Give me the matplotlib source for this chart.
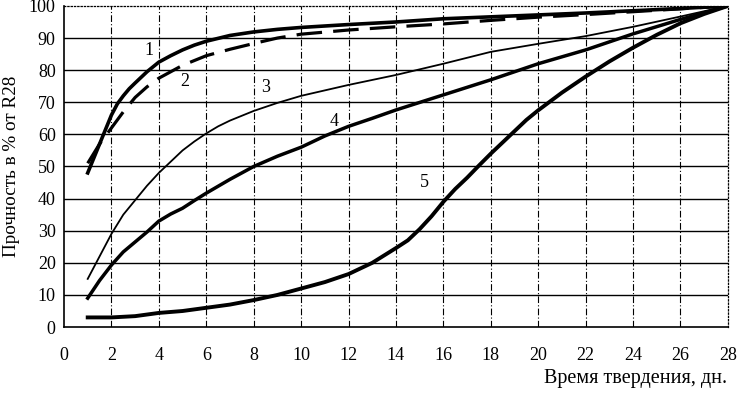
import numpy as np
import matplotlib
matplotlib.use("Agg")
import matplotlib.pyplot as plt

# days of hardening and strength in % of R28
days_1 = [1, 1.25, 1.5, 1.75, 2, 2.25, 2.5, 2.75, 3, 3.5, 4, 4.5, 5, 5.5, 6, 7, 8, 9, 10,
          12, 14, 16, 18, 20, 22, 24, 26, 28]
curve_1 = [48, 52.5, 57, 61.5, 66, 69.5, 72, 74.2, 76, 79.5, 82.5, 84.5, 86.3, 87.8, 89, 90.8, 91.9, 92.7, 93.3,
           94.2, 95, 96, 96.6, 97.2, 97.8, 98.5, 99.2, 100]

days_2 = [1, 1.5, 2, 2.5, 3, 3.5, 4, 5, 6, 7, 8, 9, 10, 12, 14, 16, 18, 20, 22, 24, 26, 28]
curve_2 = [51, 57, 62, 67, 71.5, 74.8, 77.5, 81.5, 84.5, 86.5, 88.3, 90, 91.2, 92.5, 93.5, 94.4, 95.5, 96.5, 97.3,
           98.2, 99.1, 100]

days_3 = [1, 1.5, 2, 2.5, 3, 3.5, 4, 4.5, 5, 5.5, 6, 6.5, 7, 8, 9, 10, 12, 14, 16, 18, 20, 22, 24, 26, 28]
curve_3 = [15, 22, 29, 35, 39.5, 44, 48, 51.5, 55, 57.8, 60.3, 62.5, 64.3, 67.3, 69.8, 72, 75.4, 78.5, 82, 85.7,
           88.2, 90.6, 93.5, 96.7, 100]

days_4 = [1, 1.5, 2, 2.5, 3, 3.5, 4, 4.5, 5, 5.5, 6, 7, 8, 9, 10, 11, 12, 13, 14, 16, 18, 20, 22, 24, 26, 28]
curve_4 = [9, 14.5, 19.3, 23.4, 26.5, 29.6, 33, 35.2, 37, 39.4, 41.7, 46, 50, 53.2, 56, 59.5, 62.5, 65, 67.6,
           72.3, 77, 82, 86.3, 91.3, 95.8, 100]

days_5 = [1, 2, 3, 4, 5, 6, 7, 8, 9, 10, 11, 12, 13, 14, 14.5, 15, 15.5, 16, 16.5, 17, 17.5, 18, 18.5, 19,
          19.5, 20, 21, 22, 23, 24, 25, 26, 27, 28]
curve_5 = [3, 3, 3.4, 4.4, 5, 6, 7, 8.4, 10, 12, 14, 16.5, 20, 24.6, 27, 30.5, 34.5, 39, 43, 46.5, 50.3, 54,
           57.5, 61, 64.5, 67.5, 73, 78, 82.7, 87, 91, 94.6, 97.5, 100]

curve_labels = ["1", "2", "3", "4", "5"]
label_x = [3.6, 5.1, 8.5, 11.4, 15.2]
label_y = [86, 76.5, 74.5, 64, 45]

x_ticks = list(range(0, 29, 2))
y_ticks = list(range(0, 101, 10))

plt.rcParams["font.family"] = ["Liberation Serif", "DejaVu Serif"]

fig = plt.figure(figsize=(7.39, 3.95), dpi=100)
ax = fig.add_axes([0.0866, 0.172, 0.8984, 0.813])

# grid: solid horizontal, dash-dot vertical
for y in y_ticks[1:-1]:
    ax.axhline(y, color="black", lw=1.0, zorder=1)
for x in x_ticks[1:-1]:
    ax.axvline(x, color="black", lw=0.8, ls=(0, (6, 2, 1, 2)), zorder=1)

ax.plot(days_1, curve_1, color="black", lw=2.6, zorder=3)
ax.plot(days_2, curve_2, color="black", lw=2.3, ls=(0, (8, 3.5)), zorder=3)
ax.plot(days_3, curve_3, color="black", lw=1.3, zorder=3)
ax.plot(days_4, curve_4, color="black", lw=2.5, zorder=3)
ax.plot(days_5, curve_5, color="black", lw=2.8, zorder=3)

for txt, lx, ly in zip(curve_labels, label_x, label_y):
    ax.text(lx, ly, txt, fontsize=13, ha="center", va="center", color="black")

ax.set_xlim(0, 28)
ax.set_ylim(0, 100)
ax.set_xticks(x_ticks)
ax.set_yticks(y_ticks)
ax.tick_params(length=0, labelsize=13, pad=6)
ax.tick_params(axis="x", pad=14)

ax.spines["left"].set_linewidth(1.2)
ax.spines["bottom"].set_linewidth(1.2)
ax.spines["top"].set_linestyle(":")
ax.spines["right"].set_linestyle(":")
ax.spines["top"].set_linewidth(0.9)
ax.spines["right"].set_linewidth(0.9)

ax.set_ylabel("Прочность в % от R28", fontsize=13.8, labelpad=6)
fig.text(0.86, 0.043, "Время твердения, дн.", fontsize=14.5, ha="center", va="center")

fig.savefig("out.png", dpi=100)
